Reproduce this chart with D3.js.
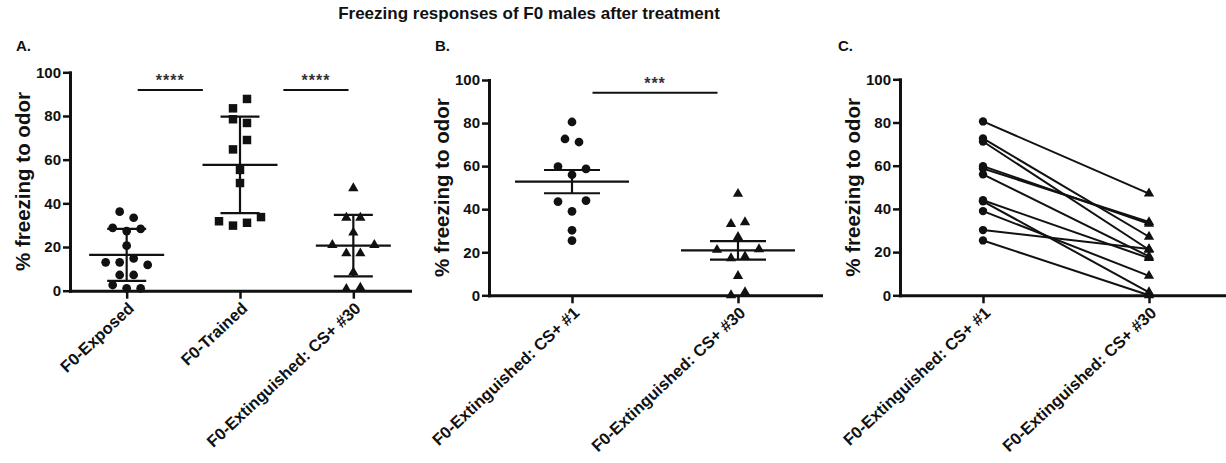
<!DOCTYPE html>
<html>
<head>
<meta charset="utf-8">
<title>Freezing responses of F0 males after treatment</title>
<script src="https://cdn.jsdelivr.net/npm/d3@7"></script>
<style>
	body {
		margin: 0;
		background: #fff;
	}
	svg text {
		font-family: Arial, 'Liberation Sans', sans-serif;
		font-weight: bold;
		fill: #111;
	}
</style>
</head>
<body>
<svg id="chart" width="1226" height="463"></svg>
<script>
// Panel A: % freezing per animal, mean +/- SD
const groupsA = ['F0-Exposed', 'F0-Trained', 'F0-Extinguished: CS+ #30'];
const exposed = [36.2, 33.4, 28.8, 27.3, 28.3, 20.6, 13.0, 13.0, 14.8, 11.8, 7.2, 7.2, 2.6, 1.1, 1.1];
const trained = [83.5, 87.8, 78.5, 76.8, 64.7, 69.0, 55.3, 49.3, 31.8, 29.8, 31.1, 33.7];
const extinguishedA = [46.9, 33.4, 33.4, 26.6, 20.9, 17.1, 17.1, 20.9, 8.4, 0.8, 1.4];

// Panels B and C: same animals at CS+ #1 and CS+ #30 (index = animal), mean +/- SEM
const groupsB = ['F0-Extinguished: CS+ #1', 'F0-Extinguished: CS+ #30'];
const cs1 = [80.5, 72.6, 71.2, 59.8, 25.4, 43.5, 39.0, 44.0, 56.0, 58.7, 30.2];
const cs30 = [47.1, 27.1, 21.1, 33.1, 0.0, 1.4, 9.0, 17.2, 18.0, 33.9, 21.4];

const yTicks = [0, 20, 40, 60, 80, 100];
const starsA = ['****', '****'];
const starsB = ['***'];

const SYMBOL_GAP = 10; // px, points closer than this share a row
const JITTER = 7; // px, half spacing between points of a row

const svg = d3.select('#chart');

svg.append('text')
	.attr('x', 529)
	.attr('y', 19)
	.attr('text-anchor', 'middle')
	.style('font-size', '17px')
	.text('Freezing responses of F0 males after treatment');

/**
 * Horizontal offsets so that overlapping points are spread side by side.
 * @param {Array} values
 * @param {Function} y
 * @return {Array}
 */
function spreadOffsets(values, y) {
	const order = d3.range(values.length)
		.sort((a, b) => values[b] - values[a] || a - b);
	const rows = [];
	let row = null;
	let prev = null;

	order.forEach(i => {
		if (row && y(values[i]) - y(prev) < SYMBOL_GAP) {
			row.push(i);
		} else {
			row = [i];
			rows.push(row);
		}
		prev = values[i];
	});

	const offsets = [];
	rows.forEach(r => {
		r.sort(d3.ascending);
		r.forEach((idx, k) => {
			offsets[idx] = (k - (r.length - 1) / 2) * 2 * JITTER;
		});
	});
	return offsets;
}

/**
 * Axes, labels and scales of one panel
 * @param {Object} opts
 * @return {Object}
 */
function makePanel(opts) {
	const g = svg.append('g');

	const x = d3.scalePoint()
		.domain(opts.groups)
		.range([opts.left, opts.right])
		.padding(0.5);

	const y = d3.scaleLinear()
		.domain([0, 100])
		.range([opts.bottom, opts.top]);

	g.append('text')
		.attr('x', opts.letterX)
		.attr('y', 51)
		.style('font-size', '15px')
		.text(opts.letter);

	g.append('text')
		.attr('transform', `translate(${opts.left - 48},${(opts.top + opts.bottom) / 2}) rotate(-90)`)
		.attr('text-anchor', 'middle')
		.attr('dominant-baseline', 'central')
		.style('font-size', '20.5px')
		.text('% freezing to odor');

	const yAxis = g.append('g')
		.attr('transform', `translate(${opts.left},0)`)
		.call(d3.axisLeft(y).tickValues(yTicks).tickSize(7).tickSizeOuter(0).tickPadding(2));

	const xAxis = g.append('g')
		.attr('transform', `translate(0,${opts.bottom})`)
		.call(d3.axisBottom(x).tickSize(8).tickSizeOuter(0));

	[yAxis, xAxis].forEach(axis => {
		axis.select('.domain')
			.attr('stroke', '#111')
			.attr('stroke-width', 3)
			.attr('stroke-linecap', 'square');
		axis.selectAll('.tick line')
			.attr('stroke', '#111')
			.attr('stroke-width', 2.5);
	});

	yAxis.selectAll('text')
		.style('font-size', '15px')
		.style('font-family', null);

	xAxis.selectAll('text')
		.attr('x', 0)
		.attr('y', 0)
		.attr('dy', 0)
		.attr('text-anchor', 'end')
		.attr('transform', 'translate(8,19) rotate(-43)')
		.style('font-size', '16.5px')
		.style('font-family', null);

	return {g, x, y};
}

/**
 * Jittered scatter of one group with mean and error bar
 * @param {Object} panel
 * @param {String} group
 * @param {Array} values
 * @param {Object} opts
 */
function drawGroup(panel, group, values, opts) {
	const {g, x, y} = panel;
	const cx = x(group);
	const offsets = spreadOffsets(values, y);
	const symbol = d3.symbol().type(opts.type).size(opts.size);

	g.append('g')
		.selectAll('path')
		.data(values)
		.enter()
		.append('path')
		.attr('d', symbol)
		.attr('fill', '#111')
		.attr('transform', (d, i) => `translate(${cx + offsets[i]},${y(d)})`);

	const mean = d3.mean(values);
	const err = opts.sem
		? d3.deviation(values) / Math.sqrt(values.length)
		: d3.deviation(values);

	const bars = g.append('g')
		.attr('stroke', '#111')
		.attr('stroke-width', 2.2);

	bars.append('line')
		.attr('x1', cx).attr('x2', cx)
		.attr('y1', y(mean - err)).attr('y2', y(mean + err));

	bars.append('line')
		.attr('x1', cx - opts.meanHalf).attr('x2', cx + opts.meanHalf)
		.attr('y1', y(mean)).attr('y2', y(mean));

	[mean - err, mean + err].forEach(v => {
		bars.append('line')
			.attr('x1', cx - opts.capHalf).attr('x2', cx + opts.capHalf)
			.attr('y1', y(v)).attr('y2', y(v));
	});
}

/**
 * Significance bar with stars
 * @param {Object} panel
 * @param {Array} sig
 */
function drawSignificance(panel, sig) {
	const {g, x, y} = panel;
	const step = x.step();

	sig.forEach(s => {
		const mid = (x(s.from) + x(s.to)) / 2 + s.shift * step;
		const half = s.width * step / 2;

		g.append('line')
			.attr('x1', mid - half).attr('x2', mid + half)
			.attr('y1', y(s.level)).attr('y2', y(s.level))
			.attr('stroke', '#111')
			.attr('stroke-width', 2);

		g.append('text')
			.attr('x', mid)
			.attr('y', y(s.level) - 4)
			.attr('text-anchor', 'middle')
			.style('font-size', '16px')
			.style('letter-spacing', '1px')
			.style('fill', '#333')
			.text(s.label);
	});
}

// Panel A
const panelA = makePanel({
	groups: groupsA, left: 70, right: 410, top: 72.3, bottom: 290.7,
	letter: 'A.', letterX: 16
});
const optsA = {meanHalf: 37.5, capHalf: 19.5, sem: false};
drawGroup(panelA, groupsA[0], exposed, {...optsA, type: d3.symbolCircle, size: 60});
drawGroup(panelA, groupsA[1], trained, {...optsA, type: d3.symbolSquare, size: 72});
drawGroup(panelA, groupsA[2], extinguishedA, {...optsA, type: d3.symbolTriangle, size: 46});
drawSignificance(panelA, [
	{from: groupsA[0], to: groupsA[1], level: 91.9, width: 0.575, shift: -0.115, label: starsA[0]},
	{from: groupsA[1], to: groupsA[2], level: 91.9, width: 0.575, shift: 0.17, label: starsA[1]}
]);

// Panel B
const panelB = makePanel({
	groups: groupsB, left: 489, right: 821, top: 80, bottom: 295.3,
	letter: 'B.', letterX: 435
});
const optsB = {meanHalf: 57, capHalf: 28, sem: true};
drawGroup(panelB, groupsB[0], cs1, {...optsB, type: d3.symbolCircle, size: 60});
drawGroup(panelB, groupsB[1], cs30, {...optsB, type: d3.symbolTriangle, size: 46});
drawSignificance(panelB, [
	{from: groupsB[0], to: groupsB[1], level: 94.1, width: 0.753, shift: 0, label: starsB[0]}
]);

// Panel C: before / after per animal
const panelC = makePanel({
	groups: groupsB, left: 900, right: 1232, top: 79.3, bottom: 295.3,
	letter: 'C.', letterX: 838
});
const pairs = cs1.map((v, i) => [v, cs30[i]]);

panelC.g.append('g')
	.selectAll('line')
	.data(pairs)
	.enter()
	.append('line')
	.attr('x1', panelC.x(groupsB[0]))
	.attr('x2', panelC.x(groupsB[1]))
	.attr('y1', d => panelC.y(d[0]))
	.attr('y2', d => panelC.y(d[1]))
	.attr('stroke', '#111')
	.attr('stroke-width', 2);

[[cs1, groupsB[0], d3.symbolCircle, 55], [cs30, groupsB[1], d3.symbolTriangle, 46]]
	.forEach(([values, group, type, size]) => {
		panelC.g.append('g')
			.selectAll('path')
			.data(values)
			.enter()
			.append('path')
			.attr('d', d3.symbol().type(type).size(size))
			.attr('fill', '#111')
			.attr('transform', d => `translate(${panelC.x(group)},${panelC.y(d)})`);
	});
</script>
</body>
</html>
